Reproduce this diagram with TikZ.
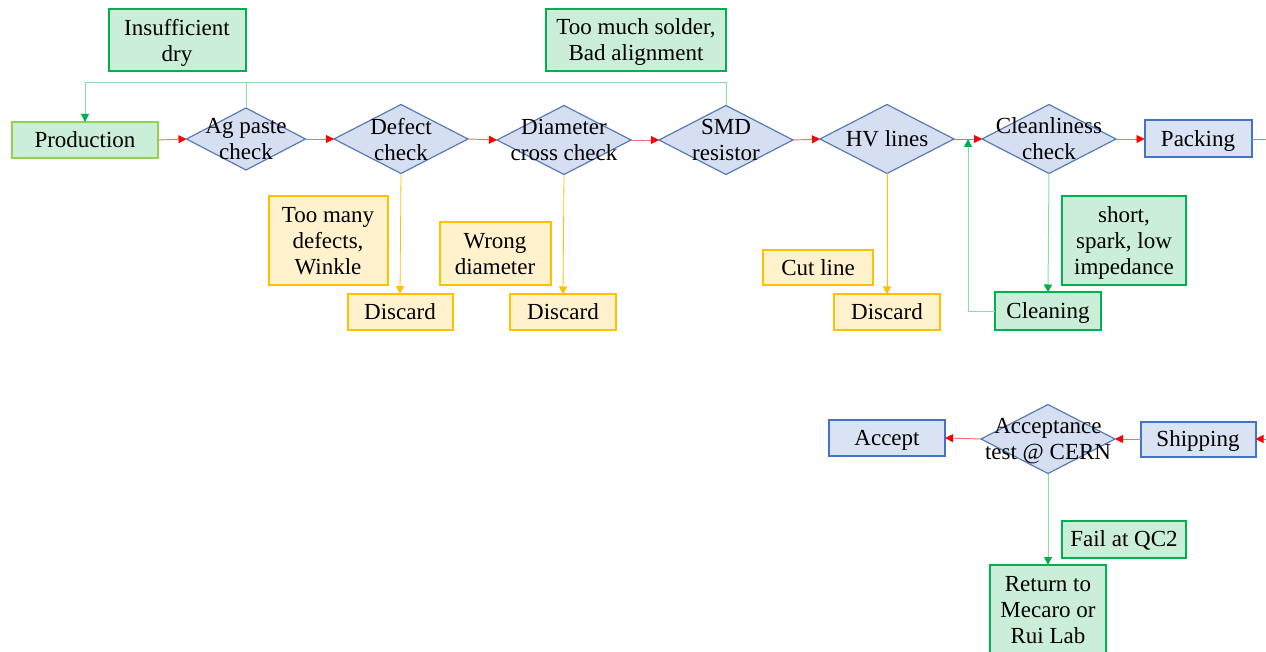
\documentclass[tikz,border=0pt]{standalone}
\usepackage{fontspec}
\setmainfont{Liberation Serif}
\usetikzlibrary{shapes.geometric,arrows.meta}
\definecolor{gfill}{HTML}{CBEED9}
\definecolor{gborder}{HTML}{00B050}
\definecolor{pborder}{HTML}{92D050}
\definecolor{ofill}{HTML}{FFF2CC}
\definecolor{oborder}{HTML}{FFC000}
\definecolor{bfill}{HTML}{DAE3F3}
\definecolor{bborder}{HTML}{4472C4}
\definecolor{dfill}{HTML}{D6DFF1}
\definecolor{dborder}{HTML}{5A7AB5}
\definecolor{gline}{HTML}{8ADBA9}
\definecolor{rline}{HTML}{FF6A6A}
\begin{document}
\begin{tikzpicture}[x=1pt,y=-1pt,
  every node/.style={font=\fontsize{23}{26}\selectfont, align=center, inner sep=2pt, outer sep=0pt, text depth=0pt},
  box/.style={rectangle, line width=2pt},
  gbox/.style={box, draw=gborder, fill=gfill},
  obox/.style={box, draw=oborder, fill=ofill},
  bbox/.style={box, draw=bborder, fill=bfill},
  dia/.style={diamond, draw=dborder, fill=dfill, line width=1.2pt, inner sep=0pt, minimum width=134pt, minimum height=69pt},
  redarr/.style={draw=rline, line width=0.9pt, -{Triangle[length=8pt,width=8pt,color=red]}},
  redplain/.style={draw=rline, line width=0.9pt},
  greenarr/.style={draw=gline, line width=1pt, -{Triangle[length=8pt,width=8pt,color=gborder]}},
  greenplain/.style={draw=gline, line width=1pt},
  orangearr/.style={draw=oborder, line width=0.8pt, -{Triangle[length=8pt,width=8pt,color=oborder]}}
]
\path[use as bounding box, clip] (0,0) rectangle (1266,652);

% main row
\node[box, draw=pborder, fill=gfill, minimum width=146pt, minimum height=36pt] (prod) at (85,140) {Production};
\node[dia, minimum width=119pt, minimum height=62pt, label={center:{Ag paste\\check}}] (ag) at (246,139) {};
\node[dia, label={center:{Defect\\check}}] (defect) at (401,139) {};
\node[dia, label={center:{Diameter\\cross check}}] (diam) at (564,140) {};
\node[dia, label={center:{SMD\\resistor}}] (smd) at (726,140) {};
\node[dia, label={center:{HV lines}}] (hv) at (887,139) {};
\node[dia, label={center:{Cleanliness\\check}}] (clean) at (1049,139) {};
\node[bbox, minimum width=107pt, minimum height=37pt] (pack) at (1198,139) {Packing};

% top notes
\node[gbox, minimum width=137pt, minimum height=62pt] (insuf) at (177,40) {Insufficient\\dry};
\node[gbox, minimum width=180pt, minimum height=62pt] (solder) at (636,40) {Too much solder,\\Bad alignment};

% lower notes
\node[obox, minimum width=119pt, minimum height=89pt] (many) at (328,241) {Too many\\defects,\\Winkle};
\node[obox, minimum width=105pt, minimum height=36pt] (disc1) at (400,312) {Discard};
\node[obox, minimum width=111pt, minimum height=63pt] (wrong) at (495,254) {Wrong\\diameter};
\node[obox, minimum width=106pt, minimum height=35pt] (disc2) at (563,312) {Discard};
\node[obox, minimum width=110pt, minimum height=35pt] (cut) at (818,268) {Cut line};
\node[obox, minimum width=106pt, minimum height=35pt] (disc3) at (887,312) {Discard};
\node[gbox, minimum width=124pt, minimum height=89pt] (short) at (1124,241) {short,\\spark, low\\impedance};
\node[gbox, minimum width=106pt, minimum height=37pt] (cleaning) at (1048,311) {Cleaning};

% bottom row
\node[bbox, minimum width=115pt, minimum height=35pt] (ship) at (1198,439) {Shipping};
\node[dia, label={center:{Acceptance\\test @ CERN}}] (acc) at (1048,439) {};
\node[bbox, minimum width=116pt, minimum height=36pt] (accept) at (887,438) {Accept};
\node[gbox, minimum width=124pt, minimum height=37pt] (fail) at (1124,539) {Fail at QC2};
\node[gbox, minimum width=116pt, minimum height=90pt] (ret) at (1048,610) {Return to\\Mecaro or\\Rui Lab};

% coordinates for free ends
\coordinate (topline) at (85,83);
\coordinate (fb) at (968,139);
\coordinate (offR) at (1266,139);
\coordinate (offS) at (1266,439);

% red flow
\draw[redarr] (prod.east) -- (ag.west);
\draw[redarr] (ag.east) -- (defect.west);
\draw[redarr] (defect.east) -- (diam.west);
\draw[redarr] (diam.east) -- (smd.west);
\draw[redarr] (smd.east) -- (hv.west);
\draw[redarr] (hv.east) -- (clean.west);
\draw[redarr] (clean.east) -- (pack.west);
\draw[redplain] (pack.east) -- (offR);
\draw[redarr] (offS) -- (ship.east);
\draw[redarr] (ship.west) -- (acc.east);
\draw[redarr] (acc.west) -- (accept.east);

% green feedback
\draw[greenarr] (smd.north) |- (topline) -- (prod.north);
\draw[greenplain] (ag.north) |- (topline);
\draw[greenarr] (clean.south) -- (cleaning.north);
\draw[greenarr] (cleaning.west) -| (fb);
\draw[greenarr] (acc.south) -- (ret.north);

% orange discards
\draw[orangearr] (defect.south) -- (disc1.north);
\draw[orangearr] (diam.south) -- (disc2.north);
\draw[orangearr] (hv.south) -- (disc3.north);
\end{tikzpicture}
\end{document}
